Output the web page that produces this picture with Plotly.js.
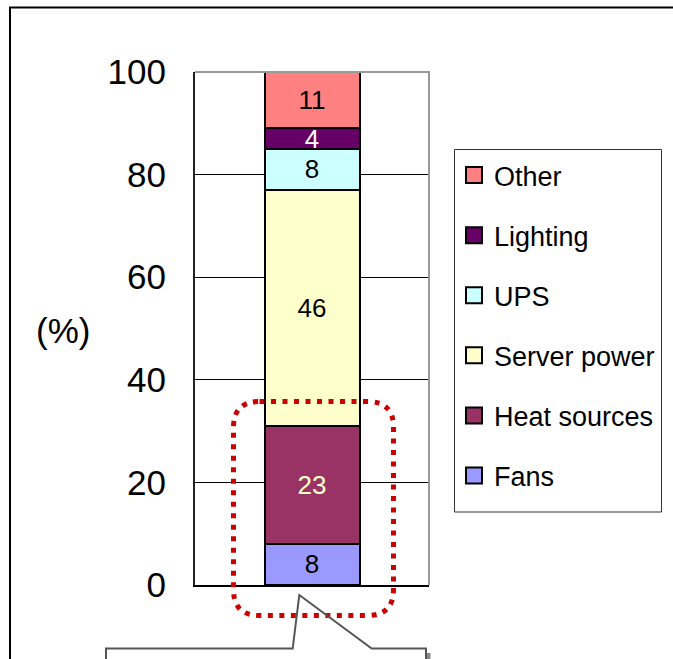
<!DOCTYPE html>
<html>
<head>
<meta charset="utf-8">
<script src="https://cdn.plot.ly/plotly-3.0.1.min.js"></script>
<style>html,body{margin:0;padding:0;background:#fff;}#chart{width:673px;height:659px;}</style>
</head>
<body>
<div id="chart"></div>
<script>
// ---- data ----
const category = ['Data center'];
const seriesNames = ['Fans', 'Heat sources', 'Server power', 'UPS', 'Lighting', 'Other'];
const seriesValues = [8, 23, 46, 8, 4, 11];
const seriesColors = ['#9999FF', '#993366', '#FFFFCC', '#CCFFFF', '#660066', '#FF8080'];
const labelColors = ['#000000', '#FFFFCC', '#000000', '#000000', '#FFFFFF', '#000000'];
const yTickVals = [0, 20, 40, 60, 80, 100];
const yTitle = '(%)';

// ---- geometry helpers (plot area in px) ----
const W = 673, H = 659;
const L = 195, R = 429, T = 72, B = 585;
const X = p => (p - L) / (R - L);
const Y = p => (B - p) / (B - T);

const FONT = 'Liberation Sans, Arial, sans-serif';

const traces = [];
seriesNames.forEach((name, i) => {
  traces.push({
    type: 'bar',
    name: name,
    x: category,
    y: [seriesValues[i]],
    text: [String(seriesValues[i])],
    textposition: 'inside',
    insidetextanchor: 'middle',
    textangle: 0,
    constraintext: 'none',
    textfont: {family: FONT, size: 26, color: labelColors[i]},
    marker: {color: seriesColors[i], line: {color: '#000', width: 2}},
    showlegend: false,
    hoverinfo: 'skip'
  });
});
// legend entries (top to bottom: Other ... Fans)
for (let i = seriesNames.length - 1; i >= 0; i--) {
  traces.push({
    type: 'scatter',
    mode: 'markers',
    name: seriesNames[i],
    legendgroup: 'g' + i,
    x: [null], y: [null],
    marker: {symbol: 'square', size: 16, color: seriesColors[i], line: {color: '#000', width: 2}},
    hoverinfo: 'skip'
  });
}

function roundRect(l, t, r, b, rad) {
  const xs = [X(l), X(l + rad), X(r - rad), X(r)];
  const ys = [Y(t), Y(t + rad), Y(b - rad), Y(b)];
  return `M${xs[1]},${ys[0]} L${xs[2]},${ys[0]} Q${xs[3]},${ys[0]} ${xs[3]},${ys[1]} ` +
         `L${xs[3]},${ys[2]} Q${xs[3]},${ys[3]} ${xs[2]},${ys[3]} ` +
         `L${xs[1]},${ys[3]} Q${xs[0]},${ys[3]} ${xs[0]},${ys[2]} ` +
         `L${xs[0]},${ys[1]} Q${xs[0]},${ys[0]} ${xs[1]},${ys[0]} Z`;
}

const shapes = [
  // outer frame (left + top)
  {type: 'path', xref: 'paper', yref: 'paper',
   path: `M${X(10)},${Y(H + 5)} L${X(10)},${Y(7.5)} L${X(W + 5)},${Y(7.5)}`,
   line: {color: '#000', width: 2}},
  // plot area top/right border (gray)
  {type: 'path', xref: 'paper', yref: 'paper',
   path: `M${X(L)},${Y(T)} L${X(R)},${Y(T)} L${X(R)},${Y(B)}`,
   line: {color: '#999', width: 2}},
  // legend box
  {type: 'rect', xref: 'paper', yref: 'paper',
   x0: X(454.5), x1: X(661.5), y0: Y(149.5), y1: Y(512),
   line: {color: '#333', width: 1}},
  // red dotted rounded highlight
  {type: 'path', xref: 'paper', yref: 'paper',
   path: roundRect(233.5, 401.5, 393.5, 615.5, 26),
   line: {color: '#CC0000', width: 5, dash: '5px,6.5px'}},
  // callout box
  {type: 'path', xref: 'paper', yref: 'paper',
   path: `M${X(106)},${Y(H + 5)} L${X(106)},${Y(648.5)} L${X(292.7)},${Y(648.5)} L${X(299.3)},${Y(595)} L${X(371.7)},${Y(648.5)} L${X(426)},${Y(648.5)} L${X(426)},${Y(H + 5)}`,
   line: {color: '#555', width: 2}},
  {type: 'rect', xref: 'paper', yref: 'paper',
   x0: X(427), x1: X(430.5), y0: Y(653), y1: Y(H + 5),
   line: {width: 0}, fillcolor: '#888'}
];

const layout = {
  width: W, height: H,
  margin: {l: L, r: W - R, t: T, b: H - B, pad: 0},
  paper_bgcolor: '#fff', plot_bgcolor: '#fff',
  barmode: 'stack',
  bargap: 0.594,
  showlegend: true,
  legend: {
    x: X(454), y: Y(151), xanchor: 'left', yanchor: 'top',
    borderwidth: 0, bgcolor: 'rgba(0,0,0,0)',
    font: {family: FONT, size: 27, color: '#000'},
    traceorder: 'grouped', tracegroupgap: 22
  },
  xaxis: {
    type: 'category', range: [-0.5, 0.5],
    showline: true, linecolor: '#000', linewidth: 2,
    showticklabels: false, ticks: '', showgrid: false, zeroline: false, fixedrange: true
  },
  yaxis: {
    range: [0, 100], tickvals: yTickVals, ticktext: yTickVals.map(String),
    showline: true, linecolor: '#222', linewidth: 2,
    showgrid: true, gridcolor: '#000', gridwidth: 1,
    ticks: 'inside', ticklen: 8, tickcolor: '#000', tickwidth: 1,
    tickfont: {family: FONT, size: 35, color: '#000'},
    ticklabelstandoff: 20,
    zeroline: false, fixedrange: true
  },
  annotations: [{
    text: yTitle, xref: 'paper', yref: 'paper',
    x: X(63), y: Y(330), xanchor: 'center', yanchor: 'middle',
    showarrow: false, font: {family: FONT, size: 35, color: '#000'}
  }],
  shapes: shapes,
  hovermode: false
};

Plotly.newPlot('chart', traces, layout, {staticPlot: true, displayModeBar: false});
</script>
</body>
</html>
